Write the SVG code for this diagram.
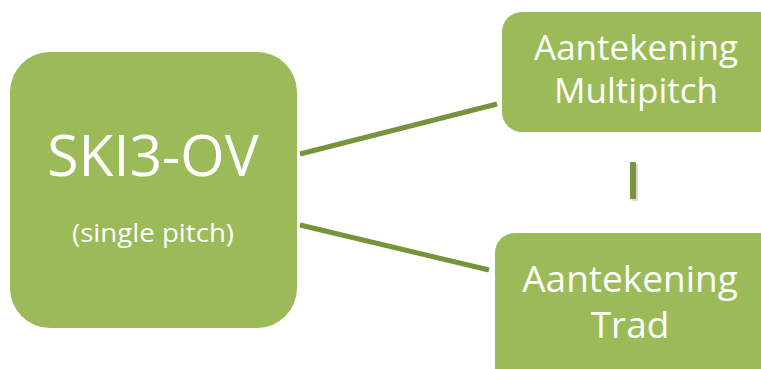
<svg xmlns="http://www.w3.org/2000/svg" width="761" height="369" viewBox="0 0 761 369">
<style>
.box{fill:#9BBB59}
.t{fill:#FFFFFF;font-family:"Open Sans","Noto Sans",sans-serif;text-anchor:middle}
.c{stroke:#77933C;stroke-width:5;fill:none}
</style>
<rect width="761" height="369" fill="#FFFFFF"/>
<g id="connectors">
<line class="c" x1="300" y1="154" x2="497" y2="104"/>
<line class="c" x1="300" y1="225" x2="489" y2="270"/>
<line x1="635" y1="164" x2="635" y2="201" stroke="#000" stroke-opacity="0.15" stroke-width="6"/>
<line x1="633" y1="162" x2="633" y2="199" stroke="#77933C" stroke-width="6"/>
</g>
<g id="node-ski3">
<rect class="box" x="10" y="52" width="287" height="276" rx="40"/>
<text class="t" x="153" y="176" font-size="57">SKI3-OV</text>
<text class="t" x="153" y="242" font-size="25" textLength="162" lengthAdjust="spacingAndGlyphs">(single pitch)</text>
</g>
<g id="node-multipitch">
<rect class="box" x="502" y="12" width="280" height="120" rx="20"/>
<text class="t" x="636" y="60" font-size="35">Aantekening</text>
<text class="t" x="636" y="103" font-size="35">Multipitch</text>
</g>
<g id="node-trad">
<rect class="box" x="495" y="233" width="290" height="160" rx="20"/>
<text class="t" x="630" y="292" font-size="37">Aantekening</text>
<text class="t" x="630" y="338" font-size="37">Trad</text>
</g>
</svg>
